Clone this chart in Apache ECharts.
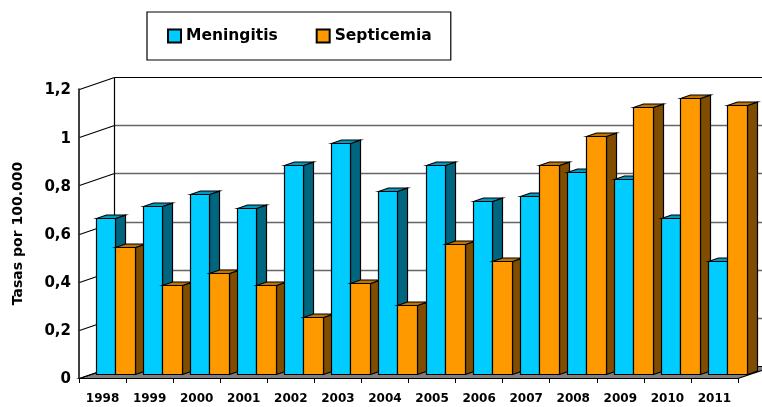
<!DOCTYPE html>
<html>
<head>
<meta charset="utf-8">
<script src="https://cdn.jsdelivr.net/npm/echarts@6/dist/echarts.min.js"></script>
<style>
  html, body { margin: 0; padding: 0; background: #fff; }
  #main { width: 762px; height: 407px; }
</style>
</head>
<body>
<div id="main"></div>
<script>
var years = ['1998', '1999', '2000', '2001', '2002', '2003', '2004', '2005', '2006', '2007', '2008', '2009', '2010', '2011'];
var meningitis = [0.65, 0.7, 0.75, 0.69, 0.87, 0.96, 0.76, 0.87, 0.72, 0.74, 0.84, 0.81, 0.65, 0.47];
var septicemia = [0.53, 0.37, 0.42, 0.37, 0.24, 0.38, 0.29, 0.54, 0.47, 0.87, 0.99, 1.11, 1.15, 1.12];
var yTicks = [0, 0.2, 0.4, 0.6, 0.8, 1, 1.2];

var FONT = '"DejaVu Sans"';

// profundidad de la caja y de las barras
var WALL_DX = 35, WALL_DY = -12;
var BAR_DX = 10, BAR_DY = -3.5;

function snap(v) {
  return Math.round(v) + 0.5;
}

function poly(points, fill, z2) {
  return {
    type: 'polygon',
    z2: z2,
    shape: { points: points },
    style: { fill: fill, stroke: '#000', lineWidth: 1.2 }
  };
}

function line(x1, y1, x2, y2, color, width) {
  return {
    type: 'line',
    z2: 1,
    shape: { x1: x1, y1: y1, x2: x2, y2: y2 },
    style: { stroke: color, lineWidth: width }
  };
}

// barra 3D: frente, lado y tapa
function bar3d(offset, width, front, side, top, order) {
  return function (params, api) {
    var cat = api.value(0);
    var p = api.coord([cat, api.value(1)]);
    var b = api.coord([cat, 0]);
    var x0 = snap(p[0] + offset);
    var x1 = snap(p[0] + offset + width);
    var yt = snap(p[1] + BAR_DY);
    var yb = snap(b[1] + BAR_DY - 0.5);
    var z2 = 10 + cat * 2 + order;
    return {
      type: 'group',
      children: [
        poly([[x1, yt], [x1 + BAR_DX, yt + BAR_DY], [x1 + BAR_DX, yb + BAR_DY], [x1, yb]], side, z2),
        poly([[x0, yt], [x0 + BAR_DX, yt + BAR_DY], [x1 + BAR_DX, yt + BAR_DY], [x1, yt]], top, z2),
        poly([[x0, yt], [x1, yt], [x1, yb], [x0, yb]], front, z2)
      ]
    };
  };
}

// pared del fondo, suelo y lineas de division
function renderWall(params, api) {
  var grid = params.coordSys;
  var v = api.value(1);
  var y = snap(api.coord([0, v])[1]);
  var left = grid.x + 0.5;
  var backX = left + WALL_DX;
  var backY = y + WALL_DY;
  var isTop = v === yTicks[yTicks.length - 1];
  var children = [];
  if (v === 0) {
    children.push(poly([[left, y], [backX, backY], [grid.x + grid.width + WALL_DX, backY], [grid.x + grid.width, y]], '#808080', 0));
  } else {
    children.push(line(backX, backY, 800, backY, isTop ? '#000' : '#666', isTop ? 1.2 : 1.6));
  }
  children.push(line(left, y, backX, backY, '#000', 1.2));
  if (isTop) {
    var floorY = snap(api.coord([0, 0])[1]) + WALL_DY;
    children.push(line(backX, backY, backX, floorY, '#000', 1.2));
  }
  return { type: 'group', children: children };
}

var chart = echarts.init(document.getElementById('main'), null, { renderer: 'canvas' });

chart.setOption({
  animation: false,
  backgroundColor: '#fff',
  textStyle: { fontFamily: FONT },
  legend: {
    left: 147,
    top: 12,
    padding: [16, 19, 16, 20],
    icon: 'rect',
    itemWidth: 13,
    itemHeight: 13,
    itemGap: 38,
    borderColor: '#000',
    borderWidth: 1.2,
    data: ['Meningitis', 'Septicemia'],
    textStyle: { fontFamily: FONT, fontWeight: 'bold', fontSize: 15.5, color: '#000' }
  },
  grid: { left: 79, right: 24, top: 89, bottom: 29 },
  xAxis: {
    type: 'category',
    data: years,
    boundaryGap: true,
    axisLine: { lineStyle: { color: '#000', width: 1.2 } },
    axisTick: { show: true, alignWithLabel: false, length: 5, lineStyle: { color: '#000' } },
    axisLabel: { color: '#000', fontFamily: FONT, fontWeight: 'bold', fontSize: 12, margin: 15, interval: 0 }
  },
  yAxis: {
    type: 'value',
    min: 0,
    max: 1.2,
    interval: 0.2,
    name: 'Tasas por 100.000',
    nameLocation: 'middle',
    nameGap: 54,
    nameRotate: 90,
    nameTextStyle: { color: '#000', fontFamily: FONT, fontWeight: 'bold', fontSize: 14 },
    axisLine: { show: true, lineStyle: { color: '#000', width: 1.5 } },
    axisTick: { show: false },
    splitLine: { show: false },
    axisLabel: {
      color: '#000',
      fontFamily: FONT,
      fontWeight: 'bold',
      fontSize: 15,
      margin: 8,
      verticalAlign: 'top',
      lineHeight: 3,
      formatter: function (v) {
        return String(v).replace('.', ',');
      }
    }
  },
  series: [
    {
      type: 'custom',
      silent: true,
      renderItem: renderWall,
      data: yTicks.map(function (v) { return [0, v]; })
    },
    {
      name: 'Meningitis',
      type: 'custom',
      renderItem: bar3d(-6.5, 19, '#00ccff', '#006680', '#0099bf', 0),
      itemStyle: { color: '#00ccff', borderColor: '#000', borderWidth: 1 },
      data: meningitis.map(function (v, i) { return [i, v]; })
    },
    {
      name: 'Septicemia',
      type: 'custom',
      renderItem: bar3d(12.5, 20, '#ff9900', '#804d00', '#bf7300', 1),
      itemStyle: { color: '#ff9900', borderColor: '#000', borderWidth: 1 },
      data: septicemia.map(function (v, i) { return [i, v]; })
    }
  ]
});
</script>
</body>
</html>
